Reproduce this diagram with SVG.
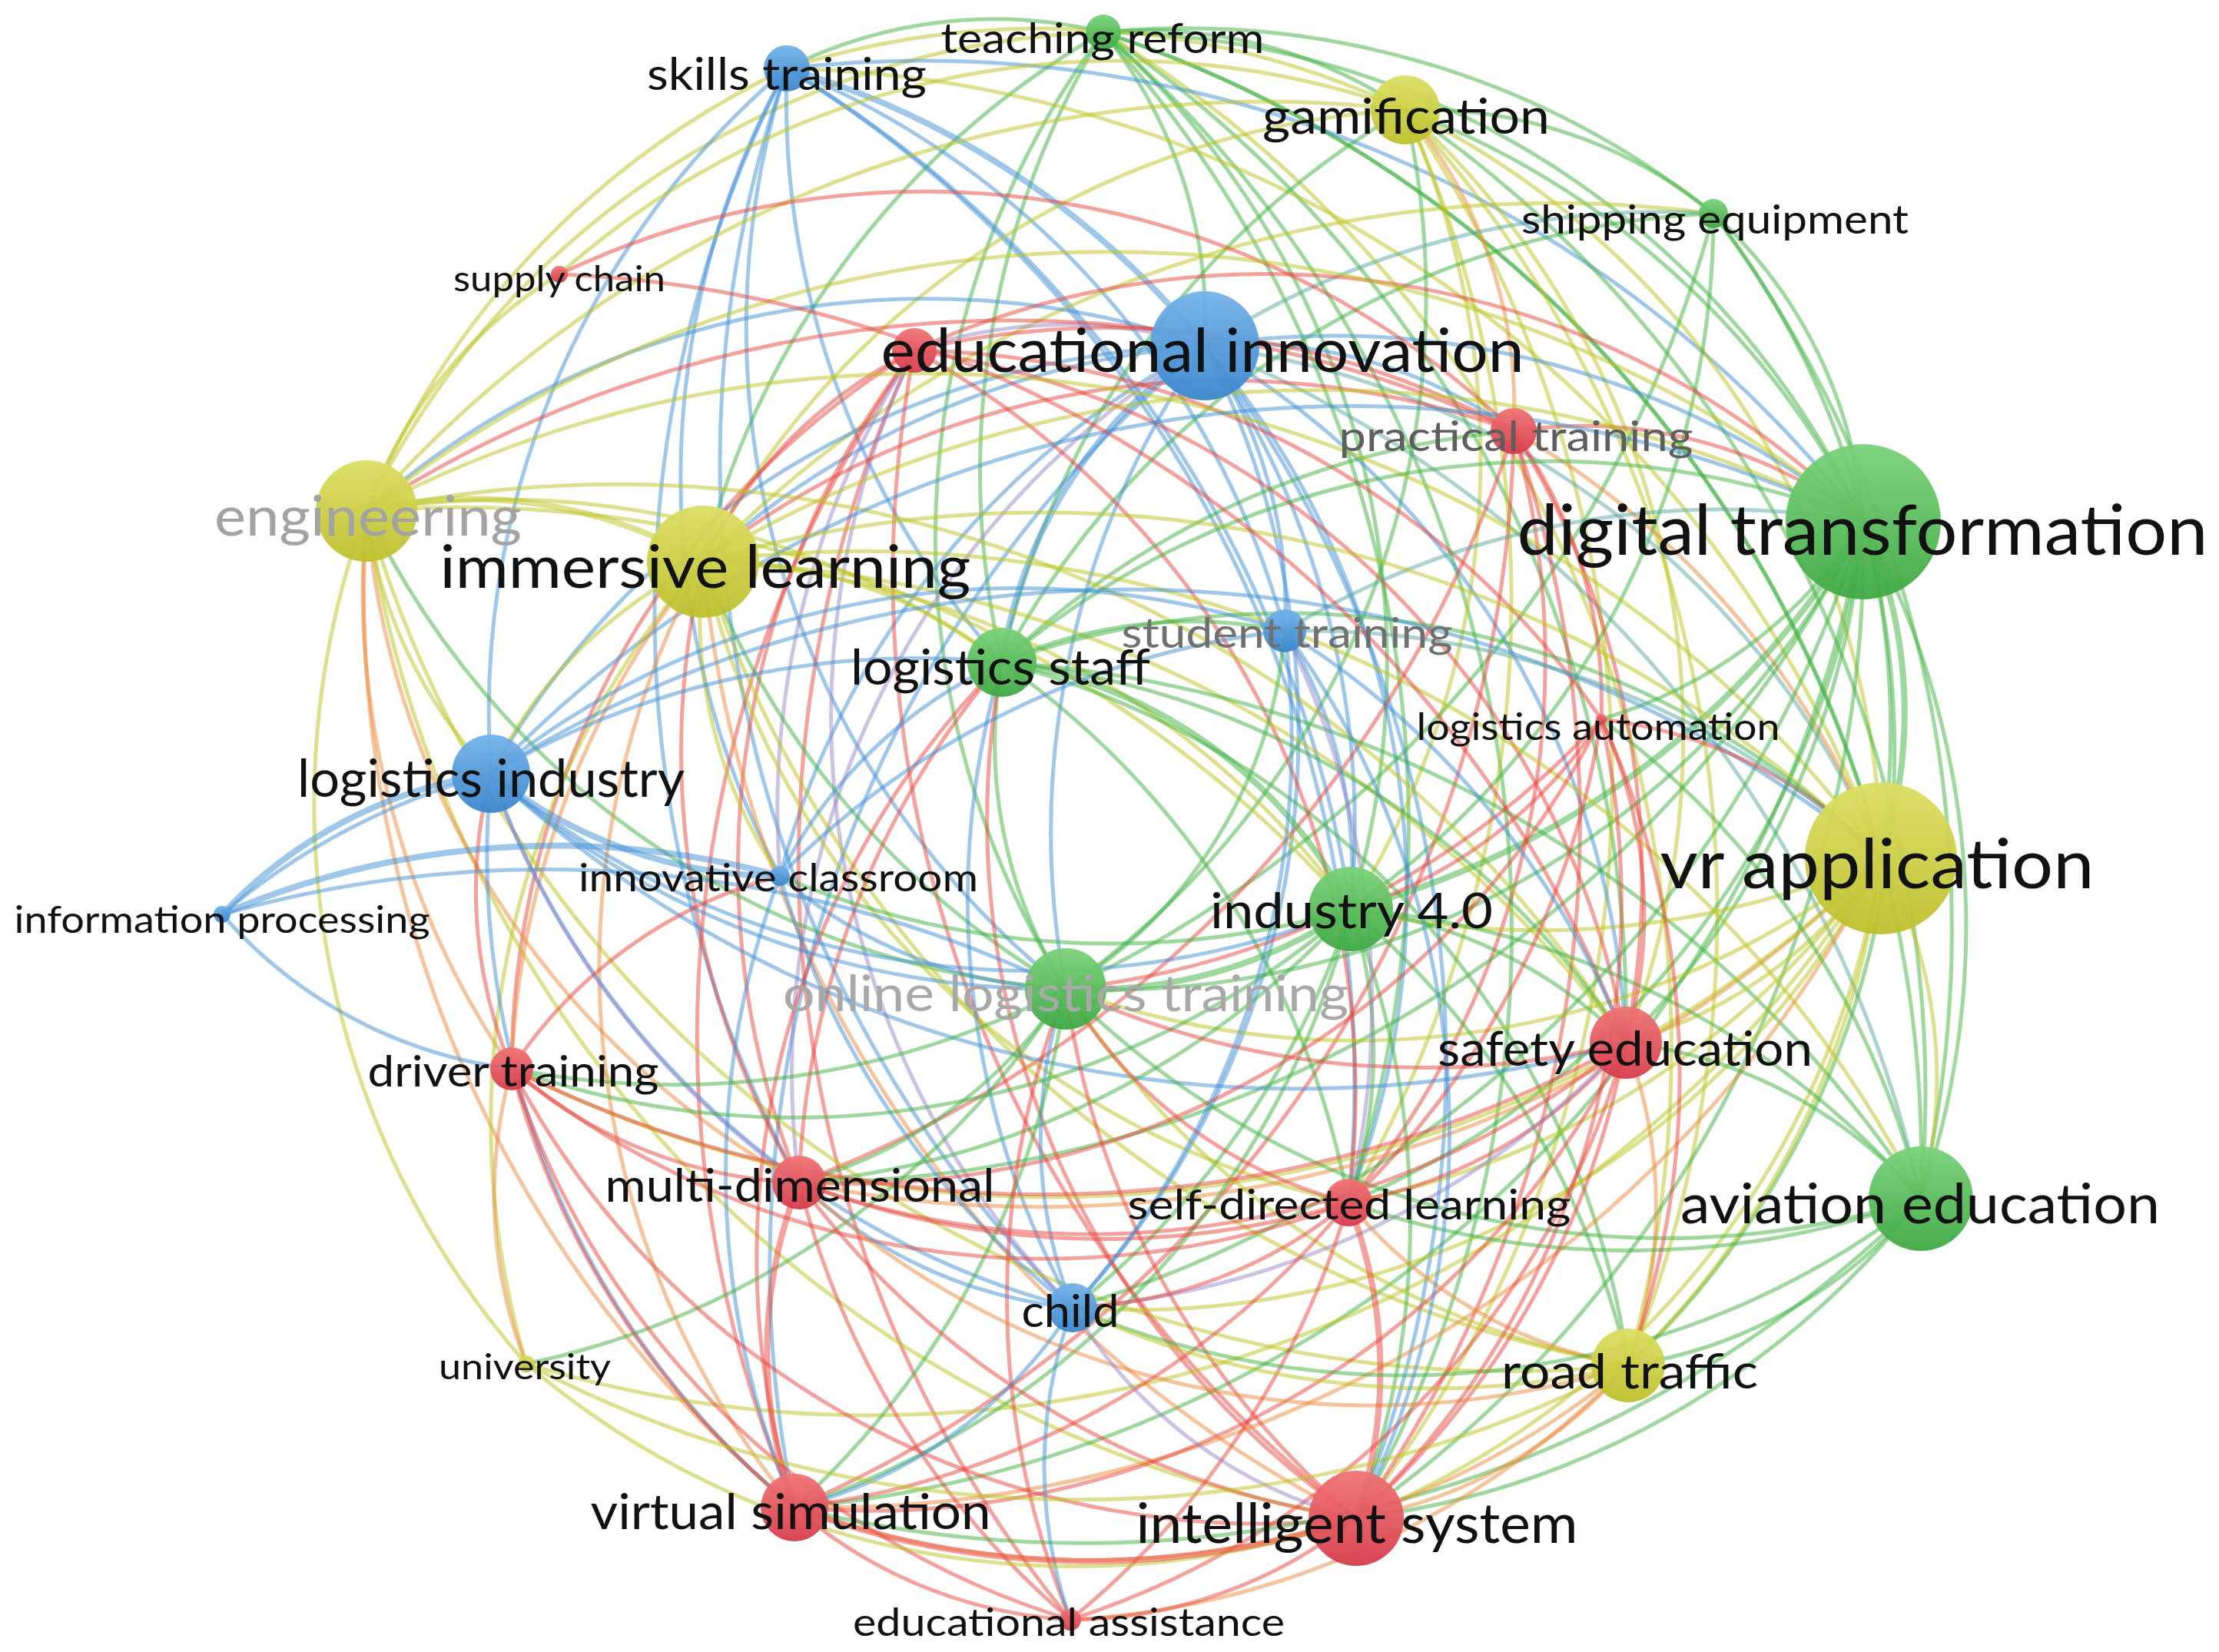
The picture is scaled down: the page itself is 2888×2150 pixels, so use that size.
<svg xmlns="http://www.w3.org/2000/svg" width="2888" height="2150" viewBox="0 0 2888 2150">
<defs>
<linearGradient id="gr" x1="0" y1="0" x2="0" y2="1"><stop offset="0" stop-color="#f07474"/><stop offset="1" stop-color="#d63c4c"/></linearGradient>
<linearGradient id="gg" x1="0" y1="0" x2="0" y2="1"><stop offset="0" stop-color="#7ad27a"/><stop offset="1" stop-color="#3ea843"/></linearGradient>
<linearGradient id="gb" x1="0" y1="0" x2="0" y2="1"><stop offset="0" stop-color="#74b2ea"/><stop offset="1" stop-color="#3a86cc"/></linearGradient>
<linearGradient id="gy" x1="0" y1="0" x2="0" y2="1"><stop offset="0" stop-color="#dcdf62"/><stop offset="1" stop-color="#bdbf2c"/></linearGradient>
</defs>
<style>
#edges path{fill:none;stroke-width:5;stroke-opacity:0.5;stroke-linecap:round}
#edges .r{stroke:#e8463c}
#edges .g{stroke:#3fb13f}
#edges .b{stroke:#3f8fd6}
#edges .y{stroke:#bcc41e}
#edges .o{stroke:#ec8a3a}
#edges .p{stroke:#9a86c8}
#edges .t{stroke:#5aa8a0}
#edges .w{stroke-width:8}
.nr{fill:url(#gr);fill-opacity:0.95}
.ng{fill:url(#gg);fill-opacity:0.95}
.nb{fill:url(#gb);fill-opacity:0.95}
.ny{fill:url(#gy);fill-opacity:0.95}
text{font-family:Lato,"Liberation Sans",sans-serif;fill:#111;text-anchor:middle}
</style>
<rect x="0" y="0" width="2888" height="2150" fill="#ffffff"/>
<g id="edges">
<path class="g" d="M1304 862A1100 1100 0 0 1 1436 42"/>
<path class="g" d="M1387 1287A1100 1100 0 0 1 1436 42"/>
<path class="g" d="M1436 42A1100 1100 0 0 1 1758 1183"/>
<path class="g" d="M1436 42A1100 1100 0 0 1 2425 679"/>
<path class="g" d="M1436 42A1100 1100 0 0 1 2230 278"/>
<path class="g" d="M1436 42A600 600 0 0 1 1829 143"/>
<path class="g" d="M915 731A1100 1100 0 0 1 1436 42"/>
<path class="y" d="M477 665A1100 1100 0 0 1 1436 42"/>
<path class="g" d="M1436 42A1550 1550 0 0 1 2448 1117"/>
<path class="g" d="M1436 42A1550 1550 0 0 1 2500 1560"/>
<path class="g" d="M1436 42A1550 1550 0 0 1 1765 1976"/>
<path class="g" d="M1436 42A1550 1550 0 0 1 2116 1357"/>
<path class="g" d="M1436 42A600 600 0 0 1 1568 450"/>
<path class="g" d="M1024 89A600 600 0 0 1 1436 42"/>
<path class="g" d="M1436 42A1550 1550 0 0 1 1755 1565"/>
<path class="y" d="M1436 42A1550 1550 0 0 1 2119 1777"/>
<path class="b w" d="M1024 89A1100 1100 0 0 1 1568 450"/>
<path class="b" d="M639 1007A1100 1100 0 0 1 1024 89"/>
<path class="b" d="M1024 89A1100 1100 0 0 1 1672 821"/>
<path class="b" d="M1015 1140A1100 1100 0 0 1 1024 89"/>
<path class="b" d="M1396 1702A1550 1550 0 0 1 1024 89"/>
<path class="b" d="M1304 862A1100 1100 0 0 1 1024 89"/>
<path class="b" d="M1387 1287A1100 1100 0 0 1 1024 89"/>
<path class="b" d="M1024 89A1550 1550 0 0 1 2425 679"/>
<path class="y" d="M1024 89A1100 1100 0 0 1 1829 143"/>
<path class="b" d="M1024 89A1550 1550 0 0 1 1758 1183"/>
<path class="y" d="M477 665A1100 1100 0 0 1 1024 89"/>
<path class="b" d="M1024 89A1550 1550 0 0 1 1755 1565"/>
<path class="y" d="M1024 89A1550 1550 0 0 1 2448 1117"/>
<path class="b" d="M1040 1539A1550 1550 0 0 1 1024 89"/>
<path class="g" d="M1829 143A1100 1100 0 0 1 2425 679"/>
<path class="y" d="M1829 143A1100 1100 0 0 1 2448 1117"/>
<path class="y" d="M1829 143A1550 1550 0 0 1 2119 1777"/>
<path class="g" d="M1829 143A1550 1550 0 0 1 2500 1560"/>
<path class="y" d="M1829 143A1550 1550 0 0 1 1765 1976"/>
<path class="y" d="M1829 143A1100 1100 0 0 1 1758 1183"/>
<path class="y" d="M1829 143A1100 1100 0 0 1 2116 1357"/>
<path class="g" d="M1304 862A1100 1100 0 0 1 1829 143"/>
<path class="y" d="M477 665A1550 1550 0 0 1 1829 143"/>
<path class="y" d="M915 731A1100 1100 0 0 1 1829 143"/>
<path class="g" d="M1829 143A600 600 0 0 1 2230 278"/>
<path class="o" d="M1829 143A600 600 0 0 1 1970 561"/>
<path class="y" d="M1829 143A1550 1550 0 0 1 1755 1565"/>
<path class="g" d="M1829 143A1100 1100 0 0 1 1387 1287"/>
<path class="y" d="M728 357A1100 1100 0 0 1 1829 143"/>
<path class="g" d="M2230 278A600 600 0 0 1 2425 679"/>
<path class="g" d="M2230 278A1550 1550 0 0 1 2500 1560"/>
<path class="g" d="M2230 278A1100 1100 0 0 1 2448 1117"/>
<path class="g" d="M2230 278A1100 1100 0 0 1 1758 1183"/>
<path class="g" d="M1304 862A1100 1100 0 0 1 2230 278"/>
<path class="g" d="M2230 278A1550 1550 0 0 1 1387 1287"/>
<path class="y" d="M915 731A1550 1550 0 0 1 2230 278"/>
<path class="t" d="M1568 450A1100 1100 0 0 1 2230 278"/>
<path class="b" d="M639 1007A1100 1100 0 0 1 1568 450"/>
<path class="b" d="M1015 1140A1100 1100 0 0 1 1568 450"/>
<path class="b" d="M1568 450A1100 1100 0 0 1 1396 1702"/>
<path class="b" d="M1568 450A600 600 0 0 1 1672 821"/>
<path class="b w" d="M1304 862A600 600 0 0 1 1568 450"/>
<path class="b" d="M1387 1287A1100 1100 0 0 1 1568 450"/>
<path class="b" d="M1568 450A1100 1100 0 0 1 1758 1183"/>
<path class="b" d="M1568 450A1100 1100 0 0 1 2425 679"/>
<path class="t" d="M1568 450A1100 1100 0 0 1 2448 1117"/>
<path class="b" d="M915 731A1100 1100 0 0 1 1568 450"/>
<path class="b" d="M477 665A1100 1100 0 0 1 1568 450"/>
<path class="b" d="M1568 450A1100 1100 0 0 1 2116 1357"/>
<path class="t" d="M1568 450A1550 1550 0 0 1 2500 1560"/>
<path class="b" d="M1568 450A1550 1550 0 0 1 1765 1976"/>
<path class="b" d="M1034 1962A1550 1550 0 0 1 1568 450"/>
<path class="p" d="M1040 1539A1100 1100 0 0 1 1568 450"/>
<path class="p" d="M1190 456A600 600 0 0 1 1568 450"/>
<path class="b" d="M1568 450A600 600 0 0 1 1970 561"/>
<path class="b" d="M1568 450A1100 1100 0 0 1 1755 1565"/>
<path class="r" d="M1040 1539A1100 1100 0 0 1 1190 456"/>
<path class="r" d="M1034 1962A1550 1550 0 0 1 1190 456"/>
<path class="r" d="M666 1391A1100 1100 0 0 1 1190 456"/>
<path class="r" d="M1765 1976A1550 1550 0 0 1 1190 456"/>
<path class="r" d="M1190 456A1100 1100 0 0 1 2116 1357"/>
<path class="r" d="M1190 456A1100 1100 0 0 1 1970 561"/>
<path class="r" d="M1393 2108A1550 1550 0 0 1 1190 456"/>
<path class="r" d="M1190 456A1100 1100 0 0 1 1755 1565"/>
<path class="r" d="M1190 456A1100 1100 0 0 1 2084 936"/>
<path class="p" d="M1015 1140A1100 1100 0 0 1 1190 456"/>
<path class="r" d="M915 731A600 600 0 0 1 1190 456"/>
<path class="r" d="M1190 456A1100 1100 0 0 1 2425 679"/>
<path class="p" d="M1396 1702A1100 1100 0 0 1 1190 456"/>
<path class="r" d="M915 731A1100 1100 0 0 1 1970 561"/>
<path class="r" d="M477 665A1550 1550 0 0 1 1970 561"/>
<path class="r" d="M1970 561A1100 1100 0 0 1 2116 1357"/>
<path class="r" d="M1970 561A1550 1550 0 0 1 1765 1976"/>
<path class="r" d="M1970 561A1100 1100 0 0 1 1755 1565"/>
<path class="r" d="M1970 561A1550 1550 0 0 1 1034 1962"/>
<path class="r" d="M1970 561A1550 1550 0 0 1 1040 1539"/>
<path class="r" d="M1970 561A600 600 0 0 1 2084 936"/>
<path class="r" d="M1970 561A600 600 0 0 1 2425 679"/>
<path class="o" d="M1970 561A1100 1100 0 0 1 2448 1117"/>
<path class="g" d="M1304 862A1100 1100 0 0 1 1970 561"/>
<path class="r" d="M728 357A1100 1100 0 0 1 1970 561"/>
<path class="y w" d="M477 665A600 600 0 0 1 915 731"/>
<path class="y" d="M639 1007A600 600 0 0 1 477 665"/>
<path class="y" d="M477 665A1550 1550 0 0 1 2448 1117"/>
<path class="y" d="M2119 1777A1550 1550 0 0 1 477 665"/>
<path class="y" d="M477 665A1550 1550 0 0 1 2425 679"/>
<path class="y" d="M477 665A600 600 0 0 1 728 357"/>
<path class="y" d="M685 1775A1100 1100 0 0 1 477 665"/>
<path class="y" d="M477 665A1550 1550 0 0 1 1758 1183"/>
<path class="g" d="M1387 1287A1100 1100 0 0 1 477 665"/>
<path class="y" d="M477 665A1100 1100 0 0 1 1304 862"/>
<path class="o" d="M1034 1962A1550 1550 0 0 1 477 665"/>
<path class="y" d="M1765 1976A1550 1550 0 0 1 477 665"/>
<path class="o" d="M666 1391A1100 1100 0 0 1 477 665"/>
<path class="o" d="M1040 1539A1100 1100 0 0 1 477 665"/>
<path class="y" d="M477 665A1550 1550 0 0 1 2116 1357"/>
<path class="g" d="M2425 679A1100 1100 0 0 1 2500 1560"/>
<path class="g w" d="M2425 679A600 600 0 0 1 2448 1117"/>
<path class="g w" d="M2425 679A1100 1100 0 0 1 1758 1183"/>
<path class="g" d="M2425 679A1100 1100 0 0 1 1387 1287"/>
<path class="g" d="M1304 862A1100 1100 0 0 1 2425 679"/>
<path class="g" d="M2425 679A1100 1100 0 0 1 2116 1357"/>
<path class="g" d="M2425 679A1100 1100 0 0 1 2119 1777"/>
<path class="g" d="M2425 679A1550 1550 0 0 1 1765 1976"/>
<path class="g" d="M2425 679A1100 1100 0 0 1 1755 1565"/>
<path class="y" d="M915 731A1550 1550 0 0 1 2425 679"/>
<path class="b" d="M639 1007A1550 1550 0 0 1 2425 679"/>
<path class="t" d="M1672 821A1100 1100 0 0 1 2425 679"/>
<path class="g" d="M2425 679A600 600 0 0 1 2084 936"/>
<path class="g" d="M2425 679A1550 1550 0 0 1 1396 1702"/>
<path class="g" d="M2425 679A1550 1550 0 0 1 1034 1962"/>
<path class="g" d="M2425 679A1550 1550 0 0 1 1040 1539"/>
<path class="y" d="M915 731A1550 1550 0 0 1 2448 1117"/>
<path class="y" d="M2119 1777A1550 1550 0 0 1 915 731"/>
<path class="y" d="M639 1007A600 600 0 0 1 915 731"/>
<path class="y" d="M685 1775A1100 1100 0 0 1 915 731"/>
<path class="o" d="M1765 1976A1550 1550 0 0 1 915 731"/>
<path class="o" d="M1034 1962A1100 1100 0 0 1 915 731"/>
<path class="y" d="M915 731A1100 1100 0 0 1 1758 1183"/>
<path class="g" d="M1387 1287A1100 1100 0 0 1 915 731"/>
<path class="y" d="M915 731A600 600 0 0 1 1304 862"/>
<path class="y" d="M915 731A1550 1550 0 0 1 2116 1357"/>
<path class="y" d="M915 731A1550 1550 0 0 1 2500 1560"/>
<path class="o" d="M666 1391A1100 1100 0 0 1 915 731"/>
<path class="r" d="M1040 1539A1100 1100 0 0 1 915 731"/>
<path class="y" d="M1755 1565A1100 1100 0 0 1 915 731"/>
<path class="y" d="M1015 1140A600 600 0 0 1 915 731"/>
<path class="g w" d="M1304 862A600 600 0 0 1 1758 1183"/>
<path class="g" d="M1387 1287A600 600 0 0 1 1304 862"/>
<path class="g" d="M1304 862A1550 1550 0 0 1 2500 1560"/>
<path class="g" d="M1304 862A1100 1100 0 0 1 2116 1357"/>
<path class="r" d="M1765 1976A1100 1100 0 0 1 1304 862"/>
<path class="r" d="M1034 1962A1100 1100 0 0 1 1304 862"/>
<path class="r" d="M1040 1539A1100 1100 0 0 1 1304 862"/>
<path class="g" d="M1304 862A1100 1100 0 0 1 1755 1565"/>
<path class="b" d="M1396 1702A1100 1100 0 0 1 1304 862"/>
<path class="b" d="M639 1007A1100 1100 0 0 1 1304 862"/>
<path class="g" d="M1304 862A600 600 0 0 1 1672 821"/>
<path class="g" d="M1304 862A1100 1100 0 0 1 2119 1777"/>
<path class="g" d="M1304 862A1100 1100 0 0 1 2448 1117"/>
<path class="b" d="M1015 1140A600 600 0 0 1 1304 862"/>
<path class="b w" d="M289 1190A600 600 0 0 1 639 1007"/>
<path class="b" d="M289 1190A900 900 0 0 1 639 1007"/>
<path class="b w" d="M1015 1140A600 600 0 0 1 639 1007"/>
<path class="b" d="M1396 1702A1100 1100 0 0 1 639 1007"/>
<path class="b" d="M639 1007A1100 1100 0 0 1 1672 821"/>
<path class="b" d="M1758 1183A1100 1100 0 0 1 639 1007"/>
<path class="b" d="M1387 1287A1100 1100 0 0 1 639 1007"/>
<path class="r" d="M666 1391A600 600 0 0 1 639 1007"/>
<path class="b" d="M1034 1962A1100 1100 0 0 1 639 1007"/>
<path class="b" d="M639 1007A1550 1550 0 0 1 2448 1117"/>
<path class="b" d="M2116 1357A1550 1550 0 0 1 639 1007"/>
<path class="p" d="M1040 1539A1100 1100 0 0 1 639 1007"/>
<path class="b w" d="M289 1190A1100 1100 0 0 1 1015 1140"/>
<path class="b" d="M289 1190A1550 1550 0 0 1 1387 1287"/>
<path class="b" d="M666 1391A600 600 0 0 1 289 1190"/>
<path class="y" d="M2448 1117A1100 1100 0 0 1 2119 1777"/>
<path class="y" d="M2448 1117A600 600 0 0 1 2500 1560"/>
<path class="y" d="M2448 1117A600 600 0 0 1 2116 1357"/>
<path class="y" d="M2448 1117A1100 1100 0 0 1 1765 1976"/>
<path class="y" d="M2448 1117A1100 1100 0 0 1 1758 1183"/>
<path class="y" d="M2448 1117A1100 1100 0 0 1 1387 1287"/>
<path class="y" d="M2448 1117A1100 1100 0 0 1 1755 1565"/>
<path class="y" d="M2448 1117A1550 1550 0 0 1 685 1775"/>
<path class="y" d="M2448 1117A1100 1100 0 0 1 1396 1702"/>
<path class="o" d="M2448 1117A1550 1550 0 0 1 1034 1962"/>
<path class="o" d="M2448 1117A1550 1550 0 0 1 1040 1539"/>
<path class="r" d="M2084 936A600 600 0 0 1 2448 1117"/>
<path class="t" d="M1672 821A1100 1100 0 0 1 2448 1117"/>
<path class="y" d="M2448 1117A1550 1550 0 0 1 666 1391"/>
<path class="b" d="M1396 1702A1100 1100 0 0 1 1015 1140"/>
<path class="g" d="M1758 1183A1100 1100 0 0 1 1015 1140"/>
<path class="b" d="M1387 1287A600 600 0 0 1 1015 1140"/>
<path class="b" d="M1015 1140A1100 1100 0 0 1 1672 821"/>
<path class="r" d="M666 1391A600 600 0 0 1 1015 1140"/>
<path class="b" d="M1034 1962A1100 1100 0 0 1 1015 1140"/>
<path class="g" d="M1758 1183A1100 1100 0 0 1 2500 1560"/>
<path class="g" d="M1758 1183A600 600 0 0 1 2116 1357"/>
<path class="g" d="M1758 1183A1100 1100 0 0 1 1765 1976"/>
<path class="g w" d="M1758 1183A600 600 0 0 1 1387 1287"/>
<path class="g" d="M1758 1183A1100 1100 0 0 1 2119 1777"/>
<path class="g" d="M1758 1183A600 600 0 0 1 1755 1565"/>
<path class="g" d="M1758 1183A1100 1100 0 0 1 1396 1702"/>
<path class="g" d="M1758 1183A1100 1100 0 0 1 1034 1962"/>
<path class="g" d="M1758 1183A1100 1100 0 0 1 1040 1539"/>
<path class="b" d="M1672 821A600 600 0 0 1 1758 1183"/>
<path class="r" d="M2084 936A600 600 0 0 1 1758 1183"/>
<path class="g" d="M1758 1183A1100 1100 0 0 1 666 1391"/>
<path class="r" d="M2116 1357A1100 1100 0 0 1 1387 1287"/>
<path class="r" d="M1765 1976A1100 1100 0 0 1 1387 1287"/>
<path class="g" d="M2500 1560A1100 1100 0 0 1 1387 1287"/>
<path class="y" d="M2119 1777A1100 1100 0 0 1 1387 1287"/>
<path class="r" d="M1755 1565A600 600 0 0 1 1387 1287"/>
<path class="b" d="M1396 1702A600 600 0 0 1 1387 1287"/>
<path class="g" d="M1387 1287A1100 1100 0 0 1 1034 1962"/>
<path class="g" d="M1387 1287A600 600 0 0 1 1040 1539"/>
<path class="g" d="M1387 1287A1100 1100 0 0 1 666 1391"/>
<path class="g" d="M1672 821A600 600 0 0 1 1387 1287"/>
<path class="r" d="M1393 2108A1100 1100 0 0 1 1387 1287"/>
<path class="g" d="M1387 1287A1100 1100 0 0 1 685 1775"/>
<path class="r" d="M2084 936A1100 1100 0 0 1 1387 1287"/>
<path class="r" d="M2116 1357A1100 1100 0 0 1 1765 1976"/>
<path class="r" d="M2116 1357A600 600 0 0 1 1755 1565"/>
<path class="r" d="M2116 1357A1100 1100 0 0 1 1034 1962"/>
<path class="r" d="M2116 1357A1100 1100 0 0 1 1040 1539"/>
<path class="r" d="M2116 1357A1550 1550 0 0 1 666 1391"/>
<path class="r" d="M2084 936A600 600 0 0 1 2116 1357"/>
<path class="g" d="M2116 1357A600 600 0 0 1 2500 1560"/>
<path class="o" d="M2116 1357A600 600 0 0 1 2119 1777"/>
<path class="r" d="M2116 1357A1100 1100 0 0 1 1393 2108"/>
<path class="p" d="M2116 1357A1100 1100 0 0 1 1396 1702"/>
<path class="r" d="M1034 1962A1100 1100 0 0 1 666 1391"/>
<path class="r" d="M1040 1539A600 600 0 0 1 666 1391"/>
<path class="r" d="M1765 1976A1100 1100 0 0 1 666 1391"/>
<path class="r" d="M1393 2108A1100 1100 0 0 1 666 1391"/>
<path class="r" d="M1755 1565A1100 1100 0 0 1 666 1391"/>
<path class="o" d="M685 1775A600 600 0 0 1 666 1391"/>
<path class="r w" d="M1034 1962A600 600 0 0 1 1040 1539"/>
<path class="r" d="M1765 1976A1100 1100 0 0 1 1040 1539"/>
<path class="r" d="M1393 2108A1100 1100 0 0 1 1040 1539"/>
<path class="r" d="M1755 1565A1100 1100 0 0 1 1040 1539"/>
<path class="b" d="M1396 1702A600 600 0 0 1 1040 1539"/>
<path class="r" d="M2084 936A1100 1100 0 0 1 1040 1539"/>
<path class="o" d="M2119 1777A1100 1100 0 0 1 1040 1539"/>
<path class="r w" d="M1755 1565A600 600 0 0 1 1765 1976"/>
<path class="r" d="M1755 1565A1100 1100 0 0 1 1034 1962"/>
<path class="o" d="M2119 1777A600 600 0 0 1 1755 1565"/>
<path class="g" d="M2500 1560A1100 1100 0 0 1 1755 1565"/>
<path class="r" d="M1755 1565A600 600 0 0 1 1396 1702"/>
<path class="r" d="M1755 1565A1100 1100 0 0 1 1393 2108"/>
<path class="r" d="M2084 936A1100 1100 0 0 1 1755 1565"/>
<path class="g" d="M2500 1560A600 600 0 0 1 2119 1777"/>
<path class="g" d="M2500 1560A1100 1100 0 0 1 1765 1976"/>
<path class="g" d="M2500 1560A1100 1100 0 0 1 1396 1702"/>
<path class="g" d="M2500 1560A1550 1550 0 0 1 1034 1962"/>
<path class="g" d="M2084 936A1100 1100 0 0 1 2500 1560"/>
<path class="p" d="M1765 1976A600 600 0 0 1 1396 1702"/>
<path class="b" d="M1393 2108A600 600 0 0 1 1396 1702"/>
<path class="b" d="M1672 821A1100 1100 0 0 1 1396 1702"/>
<path class="b" d="M1396 1702A600 600 0 0 1 1034 1962"/>
<path class="y" d="M2119 1777A1100 1100 0 0 1 1396 1702"/>
<path class="y" d="M2119 1777A1550 1550 0 0 1 685 1775"/>
<path class="y" d="M1765 1976A1100 1100 0 0 1 685 1775"/>
<path class="o" d="M2119 1777A600 600 0 0 1 1765 1976"/>
<path class="o" d="M2119 1777A1100 1100 0 0 1 1034 1962"/>
<path class="o" d="M2119 1777A1100 1100 0 0 1 1393 2108"/>
<path class="r w" d="M1765 1976A1100 1100 0 0 1 1034 1962"/>
<path class="r" d="M1393 2108A600 600 0 0 1 1034 1962"/>
<path class="r" d="M1765 1976A600 600 0 0 1 1393 2108"/>
<path class="r" d="M2084 936A1100 1100 0 0 1 1765 1976"/>
<path class="r" d="M728 357A1550 1550 0 0 1 2116 1357"/>
<path class="b" d="M1672 821A1100 1100 0 0 1 2116 1357"/>
<path class="b" d="M1672 821A1100 1100 0 0 1 1765 1976"/>
<path class="p" d="M1672 821A1100 1100 0 0 1 1755 1565"/>
<path class="r" d="M2084 936A1100 1100 0 0 1 2119 1777"/>
</g>
<g id="nodes">
<g id="n-unlabeled-red"><circle class="nr" cx="1190" cy="456" r="29"/></g>
<g id="n-teaching-reform"><circle class="ng" cx="1436" cy="42" r="23"/><text x="1435" y="69" font-size="54" textLength="421" lengthAdjust="spacingAndGlyphs">teaching reform</text></g>
<g id="n-skills-training"><circle class="nb" cx="1024" cy="89" r="30"/><text x="1024" y="117" font-size="58" textLength="364" lengthAdjust="spacingAndGlyphs">skills training</text></g>
<g id="n-gamification"><circle class="ny" cx="1829" cy="143" r="45"/><text x="1830" y="174" font-size="64" textLength="374" lengthAdjust="spacingAndGlyphs">gamification</text></g>
<g id="n-shipping-equipment"><circle class="ng" cx="2230" cy="278" r="19"/><text x="2232" y="304" font-size="52" textLength="504" lengthAdjust="spacingAndGlyphs">shipping equipment</text></g>
<g id="n-supply-chain"><circle class="nr" cx="728" cy="357" r="11"/><text x="728" y="379" font-size="46" textLength="276" lengthAdjust="spacingAndGlyphs">supply chain</text></g>
<g id="n-educational-innovation"><circle class="nb" cx="1568" cy="450" r="71"/><text x="1565" y="484" font-size="80" textLength="837" lengthAdjust="spacingAndGlyphs">educational innovation</text></g>
<g id="n-practical-training"><circle class="nr" cx="1970" cy="561" r="30"/><text x="1973" y="587" font-size="54" textLength="461" lengthAdjust="spacingAndGlyphs" style="fill:#5e5e5e">practical training</text></g>
<g id="n-engineering"><circle class="ny" cx="477" cy="665" r="66"/><text x="479" y="697" font-size="72" textLength="400" lengthAdjust="spacingAndGlyphs" style="fill:#a3a3a3">engineering</text></g>
<g id="n-digital-transformation"><circle class="ng" cx="2425" cy="679" r="101"/><text x="2424" y="722" font-size="92" textLength="899" lengthAdjust="spacingAndGlyphs">digital transformation</text></g>
<g id="n-immersive-learning"><circle class="ny" cx="915" cy="731" r="73"/><text x="918" y="765" font-size="78" textLength="691" lengthAdjust="spacingAndGlyphs">immersive learning</text></g>
<g id="n-student-training"><circle class="nb" cx="1672" cy="821" r="28"/><text x="1675" y="843" font-size="54" textLength="431" lengthAdjust="spacingAndGlyphs" style="fill:#707070">student training</text></g>
<g id="n-logistics-staff"><circle class="ng" cx="1304" cy="862" r="45"/><text x="1302" y="891" font-size="64" textLength="390" lengthAdjust="spacingAndGlyphs">logistics staff</text></g>
<g id="n-logistics-automation"><circle class="nr" cx="2084" cy="936" r="7"/><text x="2080" y="963" font-size="48" textLength="473" lengthAdjust="spacingAndGlyphs">logistics automation</text></g>
<g id="n-logistics-industry"><circle class="nb" cx="639" cy="1007" r="51"/><text x="639" y="1037" font-size="68" textLength="504" lengthAdjust="spacingAndGlyphs">logistics industry</text></g>
<g id="n-vr-application"><circle class="ny" cx="2448" cy="1117" r="99"/><text x="2443" y="1156" font-size="90" textLength="565" lengthAdjust="spacingAndGlyphs">vr application</text></g>
<g id="n-innovative-classroom"><circle class="nb" cx="1015" cy="1140" r="13"/><text x="1013" y="1160" font-size="50" textLength="520" lengthAdjust="spacingAndGlyphs">innovative classroom</text></g>
<g id="n-information-processing"><circle class="nb" cx="289" cy="1190" r="11"/><text x="289" y="1214" font-size="48" textLength="541" lengthAdjust="spacingAndGlyphs">information processing</text></g>
<g id="n-industry-4-0"><circle class="ng" cx="1758" cy="1183" r="55"/><text x="1759" y="1208" font-size="64" textLength="368" lengthAdjust="spacingAndGlyphs">industry 4.0</text></g>
<g id="n-online-logistics-training"><circle class="ng" cx="1387" cy="1287" r="53"/><text x="1387" y="1316" font-size="66" textLength="736" lengthAdjust="spacingAndGlyphs" style="fill:#a8a8a8">online logistics training</text></g>
<g id="n-safety-education"><circle class="nr" cx="2116" cy="1357" r="47"/><text x="2115" y="1387" font-size="62" textLength="488" lengthAdjust="spacingAndGlyphs">safety education</text></g>
<g id="n-driver-training"><circle class="nr" cx="666" cy="1391" r="28"/><text x="668" y="1414" font-size="56" textLength="379" lengthAdjust="spacingAndGlyphs">driver training</text></g>
<g id="n-multi-dimensional"><circle class="nr" cx="1040" cy="1539" r="35"/><text x="1041" y="1564" font-size="60" textLength="507" lengthAdjust="spacingAndGlyphs">multi-dimensional</text></g>
<g id="n-self-directed-learning"><circle class="nr" cx="1755" cy="1565" r="31"/><text x="1756" y="1587" font-size="54" textLength="577" lengthAdjust="spacingAndGlyphs">self-directed learning</text></g>
<g id="n-aviation-education"><circle class="ng" cx="2500" cy="1560" r="68"/><text x="2499" y="1592" font-size="72" textLength="624" lengthAdjust="spacingAndGlyphs">aviation education</text></g>
<g id="n-child"><circle class="nb" cx="1396" cy="1702" r="32"/><text x="1393" y="1727" font-size="58" textLength="127" lengthAdjust="spacingAndGlyphs">child</text></g>
<g id="n-university"><circle class="ny" cx="685" cy="1775" r="11"/><text x="683" y="1795" font-size="46" textLength="224" lengthAdjust="spacingAndGlyphs">university</text></g>
<g id="n-road-traffic"><circle class="ny" cx="2119" cy="1777" r="48"/><text x="2121" y="1807" font-size="62" textLength="334" lengthAdjust="spacingAndGlyphs">road traffic</text></g>
<g id="n-virtual-simulation"><circle class="nr" cx="1034" cy="1962" r="44"/><text x="1029" y="1990" font-size="64" textLength="521" lengthAdjust="spacingAndGlyphs">virtual simulation</text></g>
<g id="n-intelligent-system"><circle class="nr" cx="1765" cy="1976" r="62"/><text x="1766" y="2008" font-size="72" textLength="575" lengthAdjust="spacingAndGlyphs">intelligent system</text></g>
<g id="n-educational-assistance"><circle class="nr" cx="1393" cy="2108" r="14"/><text x="1391" y="2129" font-size="50" textLength="562" lengthAdjust="spacingAndGlyphs">educational assistance</text></g>
</g>
</svg>
